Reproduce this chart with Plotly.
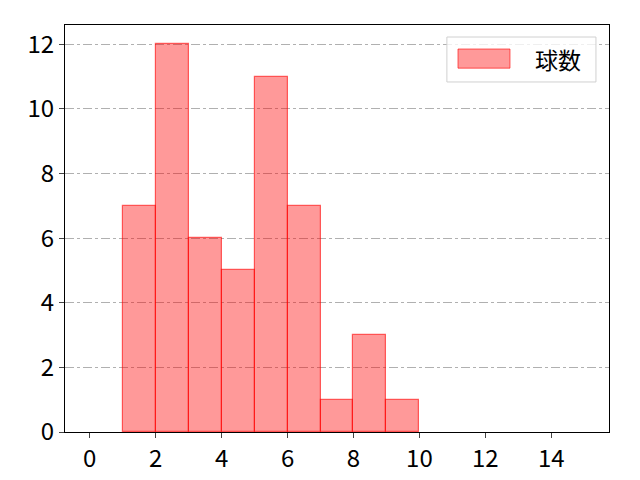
import plotly.graph_objects as go

# histogram bins (left edges) and counts
bin_left = [1, 2, 3, 4, 5, 6, 7, 8, 9]
counts = [7, 12, 6, 5, 11, 7, 1, 3, 1]
series_name = "球数"

x_ticks = [0, 2, 4, 6, 8, 10, 12, 14]
y_ticks = [0, 2, 4, 6, 8, 10, 12]

fill = "rgba(255,0,0,0.4)"
edge = "rgba(255,0,0,0.6)"

fig = go.Figure()
fig.add_trace(go.Bar(
    x=[b + 0.5 for b in bin_left],
    y=counts,
    width=1,
    name=series_name,
    marker=dict(color=fill, line=dict(color=edge, width=1.2)),
    showlegend=False,
))

fig.update_xaxes(range=[-0.75, 15.75], tickvals=x_ticks, ticks="outside", ticklen=5,
                 showgrid=False, zeroline=False, showline=True, linecolor="black",
                 mirror=True, linewidth=1)
fig.update_yaxes(range=[0, 12.6], tickvals=y_ticks, ticks="outside", ticklen=5,
                 showgrid=True, gridcolor="#b0b0b0", griddash="dashdot", gridwidth=0.8,
                 zeroline=False, showline=True, linecolor="black", mirror=True, linewidth=1)

# legend drawn like matplotlib's (wide patch + label in a light box)
fig.add_shape(type="rect", xref="paper", yref="paper", x0=0.702, x1=0.976, y0=0.86, y1=0.9705,
              line=dict(color="#d0d0d0", width=1), fillcolor="rgba(255,255,255,0.8)", layer="above")
fig.add_shape(type="rect", xref="paper", yref="paper", x0=0.7224, x1=0.818, y0=0.894, y1=0.941,
              line=dict(color=edge, width=1), fillcolor=fill, layer="above")
fig.add_annotation(text=series_name, xref="paper", yref="paper", x=0.86, y=0.9175,
                   xanchor="left", yanchor="middle", showarrow=False,
                   font=dict(size=23, color="black"))

fig.update_layout(
    width=640, height=480,
    margin=dict(l=57, r=39, t=17, b=56),
    plot_bgcolor="white", paper_bgcolor="white",
    font=dict(family="Noto Sans CJK JP, DejaVu Sans", size=24, color="black"),
    bargap=0,
)

fig.write_html("out.html")
